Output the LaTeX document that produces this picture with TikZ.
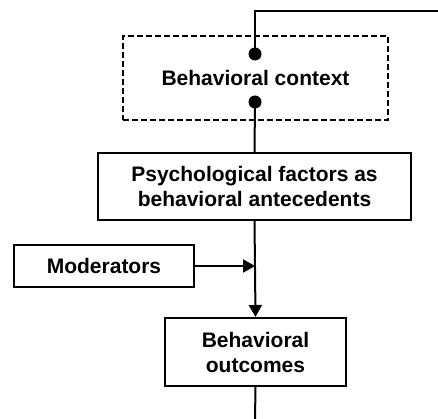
\documentclass[tikz,border=0pt]{standalone}
\usepackage{fontspec}
\setmainfont{Liberation Sans}
\usetikzlibrary{arrows.meta}
\begin{document}
\begin{tikzpicture}[x=1pt,y=-1pt,
  every node/.style={font=\fontsize{21}{25}\selectfont\bfseries, align=center, inner sep=0pt},
  box/.style={draw, line width=2pt, fill=white},
  dbox/.style={draw, line width=2pt, dash pattern=on 6pt off 3pt},
  conn/.style={line width=2pt},
  arr/.style={line width=2pt, -{Triangle[length=12pt,width=13pt]}},
  dotc/.style={circle, fill=black, minimum size=13pt, inner sep=0pt}]
\useasboundingbox (0,0) rectangle (438,419);
\node[dbox, minimum width=265pt, minimum height=84pt] (ctx) at (255.5,78) {Behavioral context};
\node[box, minimum width=313pt, minimum height=67pt] (psy) at (254.5,186.5) {Psychological factors as\\behavioral antecedents};
\node[box, minimum width=180pt, minimum height=42pt] (mod) at (104,266) {Moderators};
\node[box, minimum width=181pt, minimum height=68pt] (out) at (255.5,352) {Behavioral\\outcomes};
\node[dotc] (d1) at (255,54) {};
\node[dotc] (d2) at (255,102) {};
\coordinate (tr) at (438,11);
\coordinate (tl) at (255,11);
\coordinate (bot) at (255,419);
\coordinate (m) at (255,266);
\draw[conn] (tr) -- (tl) -- (d1.center);
\draw[conn] (d2.center) -- (psy.north);
\draw[arr] (psy.south) -- (out.north);
\draw[arr] (mod.east) -- (m);
\draw[conn] (out.south) -- (bot);
\end{tikzpicture}
\end{document}
